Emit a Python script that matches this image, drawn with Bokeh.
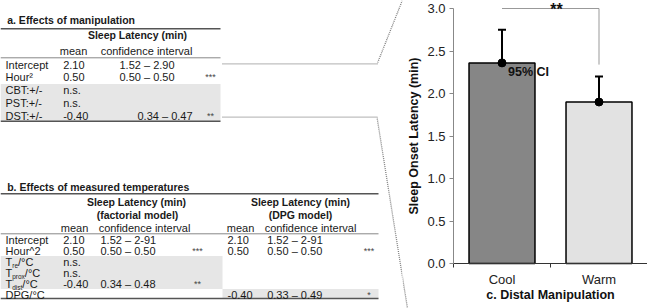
from bokeh.plotting import figure
from bokeh.layouts import row
from bokeh.models import (Range1d, FixedTicker, NumeralTickFormatter, Whisker, TeeHead,
                          ColumnDataSource, CustomJSTickFormatter, LinearAxis)
from bokeh.core.properties import value
from bokeh.embed import file_html
from bokeh.resources import INLINE

FONT = "Liberation Sans"

# ---------------- data: panel c (bar chart) ----------------
categories = ["Cool", "Warm"]
latency_mean = [2.36, 1.90]
ci_low = [2.00, 1.61]
ci_high = [2.75, 2.20]
bar_colors = ["#868686", "#e2e2e2"]
y_ticks = [0.0, 0.5, 1.0, 1.5, 2.0, 2.5, 3.0]
sig_text = "**"
sig_level = 3.0
sig_right_end = 2.34
ci_text = "95% CI"
y_label = "Sleep Onset Latency (min)"
x_label = "c. Distal Manipulation"

# ---------------- data: table a ----------------
a_title = "a. Effects of manipulation"
a_group = "Sleep Latency (min)"
a_cols = ["mean", "confidence interval"]
a_rows = ["Intercept", "Hour\u00b2", "CBT:+/-", "PST:+/-", "DST:+/-"]
a_mean = ["2.10", "0.50", "n.s.", "n.s.", "-0.40"]
a_ci = ["1.52 \u2013 2.90", "0.50 \u2013 0.50", "", "", "0.34 \u2013 0.47"]
a_sig = ["", "***", "", "", "**"]

# ---------------- data: table b ----------------
b_title = "b. Effects of measured temperatures"
b_group1 = ["Sleep Latency (min)", "(factorial model)"]
b_group2 = ["Sleep Latency (min)", "(DPG model)"]
b_cols = ["mean", "confidence interval"]
b_rows = ["Intercept", "Hour^2", "T_re/\u00b0C", "T_prox/\u00b0C", "T_dist/\u00b0C", "DPG/\u00b0C"]
b_f_mean = ["2.10", "0.50", "n.s.", "n.s.", "-0.40", ""]
b_f_ci = ["1.52 \u2013 2-91", "0.50 \u2013 0.50", "", "", "0.34 \u2013 0.48", ""]
b_f_sig = ["", "***", "", "", "**", ""]
b_d_mean = ["2.10", "0.50", "", "", "", "-0.40"]
b_d_ci = ["1.52 \u2013 2-91", "0.50 \u2013 0.50", "", "", "", "0.33 \u2013 0.49"]
b_d_sig = ["", "***", "", "", "", "*"]

# ---------------- layout constants (pixels) ----------------
W, H = 647, 308
SPLIT = 402          # left panel | chart panel
AX_X = 453           # y-axis position
AX_Y = 263           # x-axis position
CAT_W = 97.0         # px per category
PX_UNIT = 85.0       # px per minute

# ================= left panel (tables) =================
lf = figure(width=SPLIT, height=H, x_range=Range1d(0, SPLIT), y_range=Range1d(H, 0),
            output_backend="svg", toolbar_location=None, min_border=0,
            x_axis_type=None, y_axis_type=None, outline_line_color=None)
lf.grid.visible = False

TXT = "#1a1a1a"


def put(fig, xs, ys, texts, size, bold=False, align="left", color=TXT, dy=0):
    fig.text(x=xs, y=ys, text=texts, text_font=value(FONT), text_font_size=f"{size}px",
             text_font_style="bold" if bold else "normal", text_align=align,
             text_baseline="middle", text_color=color, y_offset=dy)


def band(fig, l, r, t, b):
    fig.quad(left=[l], right=[r], top=[t], bottom=[b], fill_color="#e6e6e6", line_color=None)


def rule(fig, l, r, y, w, c):
    fig.segment(x0=[l], x1=[r], y0=[y], y1=[y], line_width=w, line_color=c)


AW = {'T': 0.611, 'r': 0.333, 'e': 0.556, 'p': 0.556, 'o': 0.556, 'x': 0.5,
      'd': 0.556, 'i': 0.222, 's': 0.5, 't': 0.278}


def tw(s, size):
    return sum(AW.get(ch, 0.55) for ch in s) * size


# ---- table a
band(lf, 0, 220, 83.5, 120.7)
rule(lf, 0, 220, 28.3, 1.5, "#555555")
rule(lf, 0, 220, 57.3, 1.0, "#888888")
rule(lf, 0, 220, 120.7, 1.5, "#555555")
put(lf, [6.7], [19], [a_title], 10.5, bold=True)
put(lf, [137], [34], [a_group], 10.5, bold=True, align="center")
put(lf, [73, 146], [50.7] * 2, a_cols, 11, align="center")
a_y = [64 + 12.8 * i for i in range(len(a_rows))]
a_ci_x = [137 if i == len(a_rows) - 1 else 119 for i in range(len(a_rows))]
put(lf, [5] * len(a_rows), a_y, a_rows, 11)
put(lf, [62.7] * len(a_rows), a_y, a_mean, 11)
put(lf, a_ci_x, a_y, a_ci, 11)
put(lf, [210] * len(a_rows), a_y, a_sig, 9, align="center", color="#444444")

# ---- table b
band(lf, 0, 222, 255.5, 288.5)
band(lf, 222, 378, 288.5, 298)
rule(lf, 0, 378, 193.3, 1.5, "#555555")
rule(lf, 0, 378, 233.3, 1.0, "#888888")
rule(lf, 0, 378, 298, 1.5, "#555555")
put(lf, [6.7], [186], [b_title], 10.5, bold=True)
put(lf, [136, 137], [201.7, 214], b_group1, 10.5, bold=True, align="center")
put(lf, [300, 300], [201.7, 214], b_group2, 10.5, bold=True, align="center")
put(lf, [74, 144], [227.3] * 2, b_cols, 11, align="center")
put(lf, [240, 310], [227.3] * 2, b_cols, 11, align="center")
b_y = [239 + 11 * i for i in range(len(b_rows))]
n = len(b_rows)
plain_x, plain_y, plain_t = [], [], []
sub_x, sub_y, sub_t = [], [], []
for lab, yy in zip(b_rows, b_y):
    if "_" in lab:
        base, rest = lab.split("_", 1)
        sub, suf = rest.split("/", 1)
        x0 = 5
        plain_x.append(x0); plain_y.append(yy); plain_t.append(base)
        xs = x0 + tw(base, 11)
        sub_x.append(xs); sub_y.append(yy); sub_t.append(sub)
        plain_x.append(xs + tw(sub, 6.5)); plain_y.append(yy); plain_t.append("/" + suf)
    else:
        plain_x.append(5); plain_y.append(yy); plain_t.append(lab)
put(lf, plain_x, plain_y, plain_t, 11)
put(lf, sub_x, sub_y, sub_t, 6.5, dy=3.5)
put(lf, [62.7] * n, b_y, b_f_mean, 11)
put(lf, [100] * n, b_y, b_f_ci, 11)
put(lf, [197] * n, b_y, b_f_sig, 9, align="center", color="#444444")
put(lf, [227] * n, b_y, b_d_mean, 11)
put(lf, [266.7] * n, b_y, b_d_ci, 11)
put(lf, [368.5] * n, b_y, b_d_sig, 9, align="center", color="#444444")

# ================= right panel (bar chart) =================
bf = figure(width=W - SPLIT, height=H, x_range=Range1d(SPLIT, W), y_range=Range1d(H, 0),
            output_backend="svg", toolbar_location=None, min_border=0,
            x_axis_location=None, y_axis_location=None, outline_line_color=None)
bf.grid.visible = False
bf.extra_x_ranges = {"cat": Range1d((SPLIT - AX_X) / CAT_W, (W - AX_X) / CAT_W)}
bf.extra_y_ranges = {"lat": Range1d((AX_Y - H) / PX_UNIT, AX_Y / PX_UNIT)}


def connectors(fig):
    fig.line(x=[222, 376.7, 401.8], y=[63.3, 63.3, 0],
             line_color="#808080", line_width=1.3, line_dash="1 1")
    fig.line(x=[222, 376.5, 407], y=[116.7, 116.7, 308],
             line_color="#808080", line_width=1.3, line_dash="1 1")


connectors(lf)
connectors(bf)

R = dict(x_range_name="cat", y_range_name="lat")
xpos = [i + 0.5 for i in range(len(categories))]
bounds = [i for i in range(len(categories) + 1)]
src = ColumnDataSource(dict(x=xpos, top=latency_mean, lo=ci_low, hi=ci_high, color=bar_colors))
bf.vbar(x="x", top="top", bottom=0, width=0.68, fill_color="color", line_color="black",
        line_width=1.5, source=src, **R)
wh = Whisker(base="x", lower="lo", upper="hi", source=src, line_width=2, line_color="black",
             upper_head=TeeHead(size=8, line_width=2, line_color="black"),
             lower_head=TeeHead(size=8, line_width=2, line_color="black"), **R)
bf.add_layout(wh)
bf.scatter(x="x", y="top", size=8, color="black", source=src, **R)

# significance bracket
bf.line(x=[xpos[0], xpos[1], xpos[1]], y=[sig_level, sig_level, sig_right_end],
        line_color="#999999", line_width=1, **R)
bf.text(x=[(xpos[0] + xpos[1]) / 2], y=[sig_level], text=[sig_text],
        text_font=value(FONT), text_font_size="16px", text_font_style="bold",
        text_align="center", text_baseline="top", x_offset=6, y_offset=-8,
        text_color="#111111", **R)
bf.text(x=[xpos[0]], y=[latency_mean[0]], text=[ci_text], text_font=value(FONT),
        text_font_size="12.5px", text_font_style="bold", text_align="left",
        text_baseline="middle", x_offset=6, y_offset=9, text_color="#111111", **R)

# y axis (placed at the category origin)
ya = LinearAxis(fixed_location=0, bounds=(0, y_ticks[-1]), ticker=FixedTicker(ticks=y_ticks),
                formatter=NumeralTickFormatter(format="0.0"), **R)
ya.major_tick_out = 4
ya.major_tick_in = 0
ya.minor_tick_out = 0
ya.minor_tick_in = 0
ya.axis_line_color = "#888888"
ya.major_tick_line_color = "#888888"
ya.major_label_standoff = 4
ya.major_label_text_font = FONT
ya.major_label_text_font_size = "13px"
ya.major_label_text_color = "#222222"
ya.axis_label = y_label
ya.axis_label_text_font = FONT
ya.axis_label_text_font_size = "12.5px"
ya.axis_label_text_font_style = "bold"
ya.axis_label_text_color = "#111111"
ya.axis_label_standoff = 3
bf.add_layout(ya, "left")

# x axis: labels at category centres, ticks at category boundaries
xa = LinearAxis(fixed_location=0, bounds=(0, len(categories)),
                ticker=FixedTicker(ticks=xpos, minor_ticks=bounds),
                formatter=CustomJSTickFormatter(args=dict(labels=categories),
                                                code="return labels[Math.floor(tick)] || '';"),
                **R)
xa.major_tick_line_color = None
xa.major_tick_out = 0
xa.major_tick_in = 0
xa.minor_tick_out = 4
xa.minor_tick_in = 0
xa.minor_tick_line_color = "#333333"
xa.axis_line_color = "#333333"
xa.major_label_standoff = 4
xa.major_label_text_font = FONT
xa.major_label_text_font_size = "13px"
xa.major_label_text_color = "#222222"
xa.axis_label = x_label
xa.axis_label_text_font = FONT
xa.axis_label_text_font_size = "12.5px"
xa.axis_label_text_font_style = "bold"
xa.axis_label_text_color = "#111111"
xa.axis_label_standoff = -2
bf.add_layout(xa, "below")

layout = row(lf, bf, spacing=0)
open("out.html", "w").write(file_html(layout, INLINE))
